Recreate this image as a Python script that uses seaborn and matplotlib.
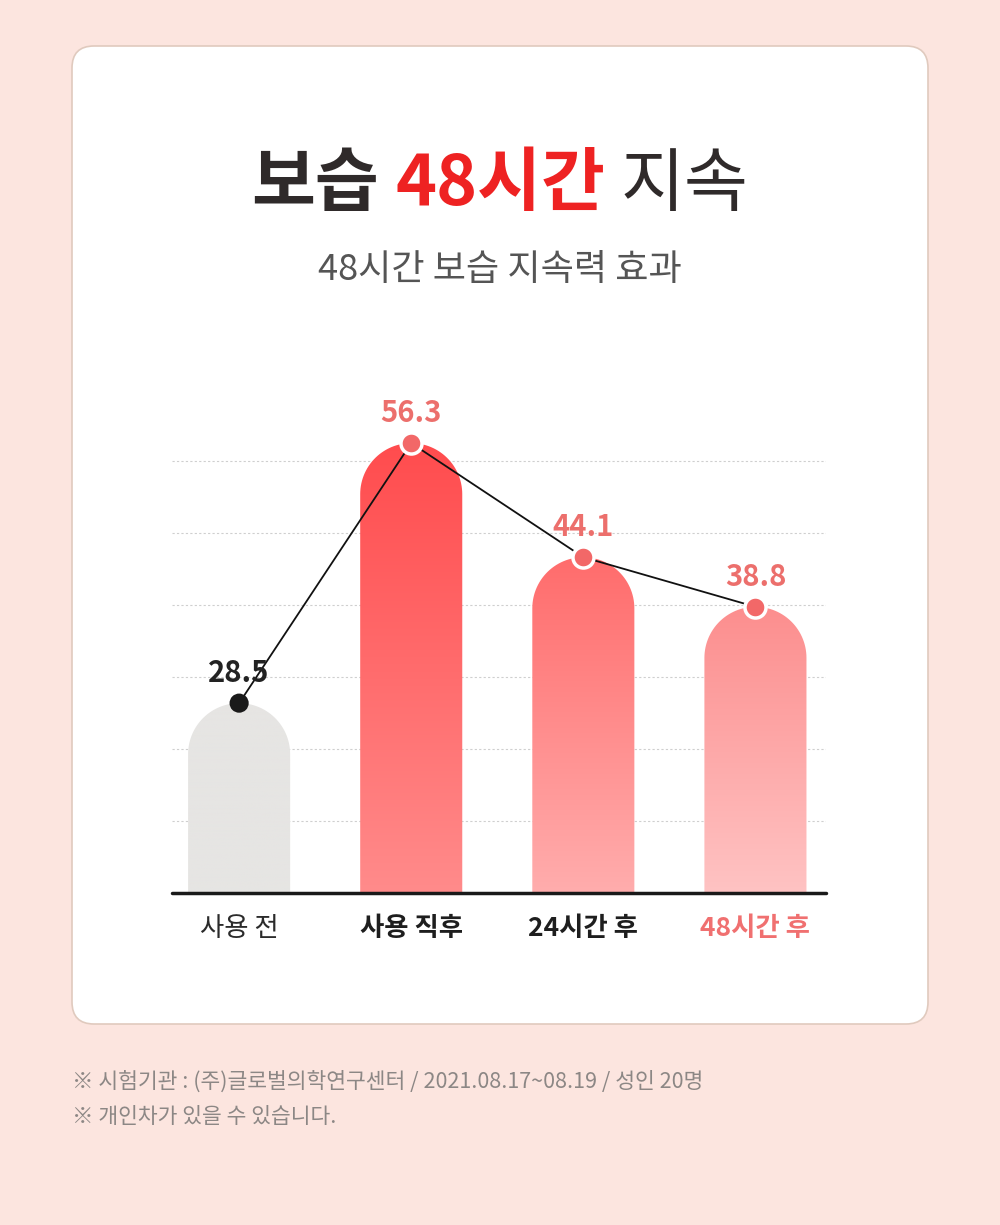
import numpy as np
import matplotlib
matplotlib.use("Agg")
import matplotlib.pyplot as plt
import seaborn as sns
from matplotlib.patches import FancyBboxPatch, PathPatch
from matplotlib.path import Path
from matplotlib.colors import to_rgb

# data
categories = ['사용 전', '사용 직후', '24시간 후', '48시간 후']
values = [28.5, 56.3, 44.1, 38.8]
label_weights = ['normal', 'bold', 'bold', 'bold']
label_colors = ['#2b2b2b', '#1e1e1e', '#1e1e1e', '#f07070']
value_colors = ['#222222', '#ec6f6c', '#ec6f6c', '#ec6f6c']
bar_top_colors = ['#e6e5e3', '#ff4c4e', '#ff6c6c', '#fc8e8e']
bar_bottom_colors = ['#e6e5e3', '#ff8b8b', '#ffadad', '#ffc3c3']
marker_colors = ['#1a1a1a', '#f26868', '#f26868', '#f26868']
footnotes = ['※ 시험기관 : (주)글로벌의학연구센터 / 2021.08.17~08.19 / 성인 20명',
             '※ 개인차가 있을 수 있습니다.']

sns.set_style('white')
plt.rcParams['font.family'] = ['Noto Sans CJK KR', 'DejaVu Sans']

fig = plt.figure(figsize=(10, 12.25), dpi=100, facecolor='#fce5df')
card = FancyBboxPatch((0.72, 2.01), 8.56, 9.78, boxstyle='round,pad=0,rounding_size=0.22',
                      transform=fig.dpi_scale_trans, facecolor='white', edgecolor='#e0cabe', lw=1.2,
                      zorder=-10)
fig.patches.append(card)

ax = fig.add_axes([0.172, 0.271, 0.654, 0.4024])
ax.set_facecolor('none')
y0, y1 = 8.2, 60.9
step = 7.7

sns.barplot(x=categories, y=values, ax=ax, width=0.593, color='white')
ax.set_xlim(-0.39, 3.41)
ax.set_ylim(y0, y1)

# pixel scale to make round tops circular
p0 = ax.transData.transform((0, 0))
p1 = ax.transData.transform((1, 1))
px_x = p1[0] - p0[0]
px_y = p1[1] - p0[1]

for i, p in enumerate(ax.patches[:len(values)]):
    p.set_visible(False)
    x0 = p.get_x()
    w = p.get_width()
    top = p.get_height()
    hw = w / 2
    cx = x0 + hw
    ry = hw * px_x / px_y
    t = np.linspace(np.pi, 0, 60)
    verts = [(x0, y0), (x0, top - ry)]
    verts += list(zip(cx + hw * np.cos(t), top - ry + ry * np.sin(t)))
    verts += [(x0 + w, y0), (x0, y0)]
    codes = [Path.MOVETO] + [Path.LINETO] * (len(verts) - 2) + [Path.CLOSEPOLY]
    clip = PathPatch(Path(verts, codes), transform=ax.transData, facecolor='none', edgecolor='none')
    c_top = np.array(to_rgb(bar_top_colors[i]))
    c_bot = np.array(to_rgb(bar_bottom_colors[i]))
    g = np.linspace(0, 1, 256)[:, None, None]
    arr = c_top[None, None, :] * (1 - g) + c_bot[None, None, :] * g
    im = ax.imshow(arr, extent=[x0, x0 + w, y0, top], origin='upper', aspect='auto', zorder=2)
    im.set_clip_path(clip)

ax.set_xlim(-0.39, 3.41)
ax.set_ylim(y0, y1)

for yg in y0 + step * np.arange(1, 7):
    ax.axhline(yg, color='#cfcfcf', lw=0.8, ls=(0, (2, 2)), zorder=0.5)
ax.axhline(y0, color='#1a1a1a', lw=2.5, zorder=3, clip_on=False)

xs = np.arange(len(values))
ax.plot(xs, values, color='#111111', lw=1.3, zorder=4)
for i, v in enumerate(values):
    if i == 0:
        ax.scatter(i, v, s=190, color=marker_colors[i], edgecolor='none', zorder=5)
    else:
        ax.scatter(i, v, s=230, color=marker_colors[i], edgecolor='white', linewidth=2.5, zorder=5)
    ax.annotate(f'{v}', (i, v), xytext=(0, 11), textcoords='offset points', ha='center', va='bottom',
                fontsize=21, fontweight='bold', color=value_colors[i], zorder=6)

ax.set_xticks(xs)
ax.set_xticklabels(categories)
ax.tick_params(axis='x', length=0, pad=16, labelsize=19)
for lbl, wt, col in zip(ax.get_xticklabels(), label_weights, label_colors):
    lbl.set_fontweight(wt)
    lbl.set_color(col)
ax.set_yticks([])
ax.set_xlabel('')
ax.set_ylabel('')
for s in ax.spines.values():
    s.set_visible(False)

# title with coloured middle part
renderer = fig.canvas.get_renderer()
parts = [('보습', '#2f2a2a', 'bold'), ('48시간', '#ee2222', 'bold'), ('지속', '#2f2a2a', 'normal')]
title_y = 1 - 205 / 1225
texts = []
for s, col, wt in parts:
    texts.append(fig.text(0, title_y, s, fontsize=50, color=col, fontweight=wt, ha='left', va='baseline'))
gap = 16
widths = [t.get_window_extent(renderer).width for t in texts]
total = sum(widths) + gap * (len(widths) - 1)
xpos = 500 - total / 2
for t, wd in zip(texts, widths):
    t.set_x(xpos / 1000)
    xpos += wd + gap

fig.text(0.5, 1 - 280 / 1225, '48시간 보습 지속력 효과', fontsize=26, color='#555555',
         ha='center', va='baseline')

fig.text(0.072, 1 - 1088 / 1225, footnotes[0], fontsize=15.5, color='#8c8785', ha='left', va='baseline')
fig.text(0.072, 1 - 1123 / 1225, footnotes[1], fontsize=15.5, color='#8c8785', ha='left', va='baseline')

fig.savefig('out.png', dpi=100, facecolor=fig.get_facecolor())
